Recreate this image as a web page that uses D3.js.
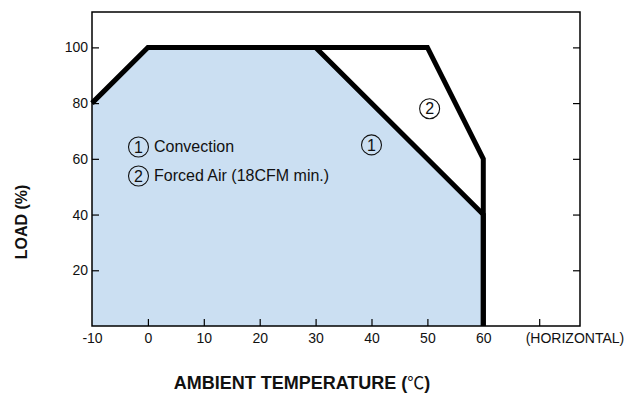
<!DOCTYPE html>
<html><head><meta charset="utf-8">
<script src="https://cdn.jsdelivr.net/npm/d3@7"></script>
<style>
body{margin:0;background:#fff;}
text{font-family:"Liberation Sans",Arial,sans-serif;}
</style></head><body>
<svg id="c" width="624" height="401"></svg>
<script>
// Data
const xTicks = [-10, 0, 10, 20, 30, 40, 50, 60, 70];
const xTickLabels = ["-10", "0", "10", "20", "30", "40", "50", "60", "(HORIZONTAL)"];
const yTicks = [20, 40, 60, 80, 100];
const convectionTemp = [-10, 0, 30, 60, 60];
const convectionLoad = [80, 100, 100, 40, 0];
const forcedTemp = [30, 50, 60, 60];
const forcedLoad = [100, 100, 60, 0];
const legendItems = ["Convection", "Forced Air (18CFM min.)"];

const svg = d3.select("#c");
const L = 92, R = 580, T = 12, B = 326;
const x = d3.scaleLinear().domain([-10, 77.3]).range([L, R]);
const y = d3.scaleLinear().domain([0, 112.7]).range([B, T]);

// fill area under convection curve
const fillPts = convectionTemp.map((t, i) => [t, convectionLoad[i]]).concat([[-10, 0]]);
svg.append("path")
  .attr("d", d3.line().x(d => x(d[0])).y(d => y(d[1]))(fillPts) + "Z")
  .attr("fill", "#cbdff2");

// axes with inward ticks
const xa = svg.append("g").attr("transform", `translate(0,${B})`)
  .call(d3.axisBottom(x).tickValues(xTicks).tickSize(-7).tickPadding(7)
    .tickFormat((d, i) => xTickLabels[i]));
const ya = svg.append("g").attr("transform", `translate(${L},0)`)
  .call(d3.axisLeft(y).tickValues(yTicks).tickSize(-7).tickPadding(4).tickFormat(d3.format("d")));
const yr = svg.append("g").attr("transform", `translate(${R},0)`)
  .call(d3.axisRight(y).tickValues(yTicks).tickSize(-7).tickFormat(""));
[xa, ya, yr].forEach(g => {
  g.attr("font-family", null).attr("font-size", null);
  g.select(".domain").remove();
  g.selectAll(".tick line").attr("stroke", "#000").attr("stroke-width", 1.2);
  g.selectAll(".tick text").attr("font-size", 14).attr("fill", "#111");
});
xa.selectAll(".tick").filter(d => d === -10).select("line").remove();
xa.selectAll(".tick").filter(d => d === 70).select("text")
  .attr("text-anchor", "start").attr("x", -14);

// frame
svg.append("rect").attr("x", L).attr("y", T).attr("width", R - L).attr("height", B - T)
  .attr("fill", "none").attr("stroke", "#000").attr("stroke-width", 1.5);

// curves
const line = d3.line().x(d => x(d[0])).y(d => y(d[1]));
svg.append("path")
  .attr("d", line(forcedTemp.map((t, i) => [t, forcedLoad[i]])))
  .attr("fill", "none").attr("stroke", "#000").attr("stroke-width", 5);
svg.append("path")
  .attr("d", line(convectionTemp.map((t, i) => [t, convectionLoad[i]])))
  .attr("fill", "none").attr("stroke", "#000").attr("stroke-width", 5);

// circled numbers
function circled(cx, cy, n) {
  svg.append("circle").attr("cx", cx).attr("cy", cy).attr("r", 10)
    .attr("fill", "none").attr("stroke", "#111").attr("stroke-width", 1.1);
  svg.append("text").attr("x", cx).attr("y", cy + 5.8).attr("text-anchor", "middle")
    .attr("font-size", 16).attr("fill", "#111").text(n);
}
// legend
legendItems.forEach((s, i) => {
  const cy = 147 + i * 29;
  circled(138.5, cy, i + 1);
  svg.append("text").attr("x", 154).attr("y", cy + 5).attr("font-size", 16)
    .attr("fill", "#111").text(s);
});
circled(x(40), y(65), 1);
circled(x(50.4), y(78), 2);

// axis titles
const title = svg.append("text").attr("x", 302).attr("y", 389).attr("text-anchor", "middle")
  .attr("font-size", 18).attr("font-weight", "bold").attr("fill", "#111");
title.append("tspan").text("AMBIENT TEMPERATURE (");
title.append("tspan").attr("font-weight", "normal").attr("font-family", "Noto Sans CJK SC")
  .attr("font-size", 17).text("℃");
title.append("tspan").text(")");
svg.append("text").attr("transform", "translate(27,222) rotate(-90)")
  .attr("text-anchor", "middle").attr("font-size", 16).attr("font-weight", "bold")
  .attr("fill", "#111").text("LOAD (%)");
</script>
</body></html>
